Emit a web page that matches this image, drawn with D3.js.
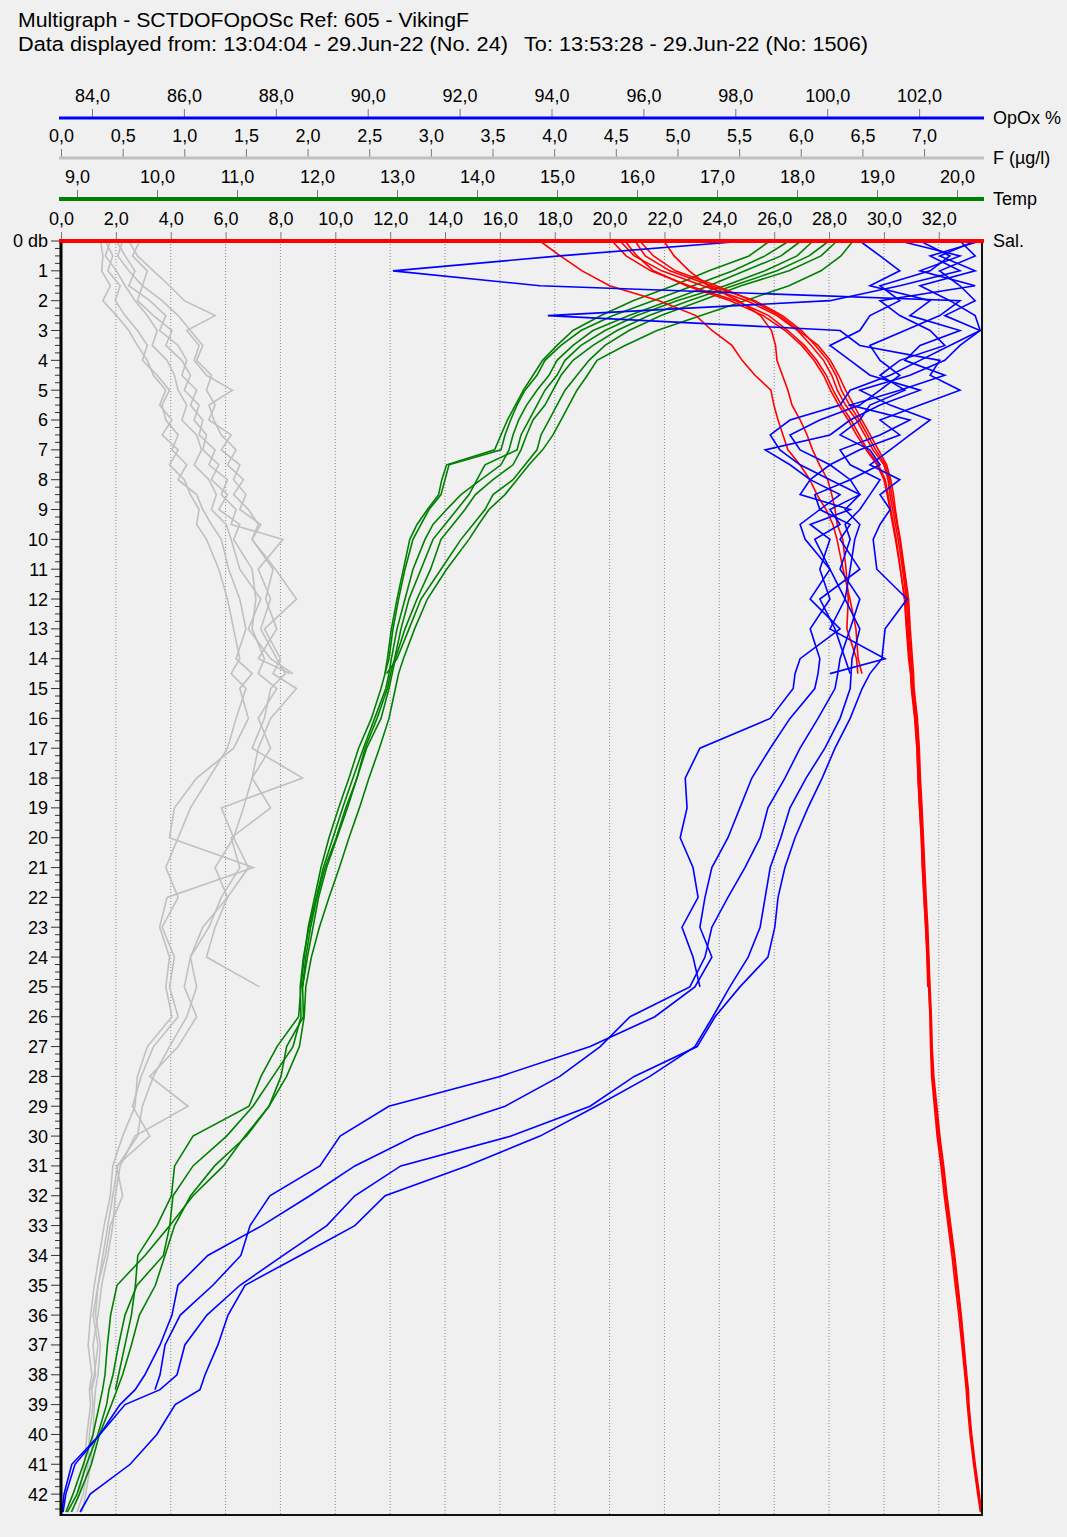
<!DOCTYPE html>
<html>
<head>
<meta charset="utf-8">
<script src="https://cdn.jsdelivr.net/npm/d3@7"></script>
<style>
  html, body { margin: 0; padding: 0; background: #f0f0f0; }
  svg { display: block; font-family: "Liberation Sans", Arial, sans-serif; }
</style>
</head>
<body>
<svg id="chart" width="1067" height="1537"></svg>
<script>
// ---------------- DATA ----------------
const titleLine1 = "Multigraph - SCTDOFOpOSc Ref: 605 - VikingF";
const titleLine2a = "Data displayed from: 13:04:04 - 29.Jun-22 (No. 24)";
const titleLine2b = "To: 13:53:28 - 29.Jun-22 (No: 1506)";

// depth (db) at which every profile value is sampled
const depthGrid = [0,0.5,1,1.5,2,2.5,3,3.5,4,4.5,5,5.5,6,6.5,7,7.5,8,8.5,9,9.5,10,11,12,13,14,14.5,
  15,16,17,18,19,20,21,22,23,24,25,26,27,28,29,30,31,32,33,34,35,36,37,38,38.5,39,40,41,42,42.6];

// Temperature (deg C) per cast
const tempCast1 = [18.5,18.3,17.9,17.3,16.8,16.3,15.9,15.6,15.4,15.25,15.1,15.0,14.9,14.8,14.75,14.6,14.45,14.2,14.1,13.95,13.8,13.55,13.3,13.15,13.0,12.87];
const tempCast2 = [17.9,17.6,17.2,16.7,16.2,15.7,15.3,15.05,14.85,14.75,14.6,14.5,14.42,14.35,14.3,13.65,13.6,13.55,13.4,13.3,13.2,13.1,13.02,12.95,12.9,12.85];
const tempCast3 = [18.2,18.0,17.6,17.1,16.5,16.0,15.6,15.3,15.1,15.0,14.85,14.75,14.65,14.55,14.5,14.1,14.0,13.9,13.75,13.6,13.45,13.3,13.15,13.05,12.97,12.92,12.88,12.75,12.6,12.5,12.38,12.25,12.12,12.02,11.95,11.88,11.82];
const tempCast4 = [17.66,17.4,16.9,16.45,15.95,15.55,15.2,15.0,14.82,14.7,14.58,14.48,14.38,14.3,14.22,13.62,13.56,13.52,13.38,13.25,13.16,13.08,13.0,12.93,12.88,12.85,12.8,12.68,12.52,12.4,12.27,12.15,12.05,11.97,11.89,11.84,11.8,11.77,11.5,11.3,11.15,10.45,10.22,10.18,10.0,9.76,9.73,9.68,9.6,9.52,9.48];
const tempCast5 = [18.7,18.55,18.3,17.9,17.35,16.8,16.25,15.85,15.5,15.38,15.25,15.15,15.05,14.95,14.82,14.65,14.5,14.35,14.15,14.02,13.9,13.62,13.38,13.22,13.08,13.02,12.98,12.9,12.78,12.65,12.53,12.4,12.28,12.15,12.03,11.93,11.86,11.84,11.78,11.62,11.4,11.12,10.72,10.42,10.22,10.1,9.98,9.78,9.68,9.57,9.5,9.43,9.28,9.18,9.03,8.93];
const tempCast6 = [18.05,17.8,17.35,16.9,16.4,15.9,15.45,15.2,15.0,14.9,14.75,14.62,14.52,14.45,14.4,14.3,14.05,13.8,13.62,13.45,13.35,13.2,13.1,13.0,12.93,12.9,12.86,12.72,12.58,12.45,12.32,12.2,12.08,11.99,11.9,11.83,11.79,11.8,11.7,11.45,11.2,10.87,10.45,10.2,10.16,9.85,9.5,9.42,9.38,9.35,9.32,9.28,9.2,9.08,8.95,8.86];
const tempCast7 = [18.4,18.15,17.75,17.2,16.65,16.15,15.75,15.45,15.2,15.05,14.95,14.85,14.7,14.62,14.55,14.45,14.2,13.98,13.85,13.7,13.55,13.42,13.25,13.1,12.98,12.94,12.9,12.8,12.62,12.5,12.36,12.24,12.1,12.0,11.92,11.86,11.82,11.83,11.62,11.55,11.4,11.1,10.83,10.45,10.16,10.08,9.75,9.6,9.52,9.45,9.4,9.37,9.26,9.12,9.0,8.88];

// Salinity per cast
const salCast1 = [17.46,18.2,19.0,20.0,21.8,23.15,23.73,24.46,24.83,25.3,25.88,25.99,26.14,26.32,26.5,26.94,27.3,27.56,27.89,28.14,28.29,28.51,28.76,28.98,29.06,29.2];
const salCast2 = [21.98,22.35,22.9,23.6,24.7,25.5,25.9,26.05,26.1,26.3,26.5,26.65,26.95,27.2,27.4,27.65,27.95,28.1,28.22,28.3,28.5,28.62,28.7,28.65,29.0,29.05];
const salCast3 = [20.09,20.6,21.5,22.9,24.6,25.8,26.5,27.1,27.55,27.9,28.15,28.45,28.8,29.1,29.4,29.8,30.05,30.15,30.25,30.35,30.45,30.6,30.75,30.82,30.9,30.97,31.0,31.12,31.2,31.25,31.3,31.36,31.4,31.46,31.52,31.57,31.6];
const salCast4 = [20.38,20.9,21.9,23.4,25.0,26.1,26.85,27.35,27.8,28.1,28.3,28.6,29.0,29.3,29.6,30.0,30.15,30.22,30.32,30.42,30.52,30.68,30.82,30.88,30.97,31.02,31.05,31.17,31.24,31.28,31.34,31.4,31.44,31.49,31.55,31.6,31.64,31.69,31.72,31.77,31.88,31.98,32.12,32.25,32.38,32.53,32.65,32.78,32.88,32.98,33.05];
const salCast5 = [20.93,21.3,22.2,23.7,25.3,26.3,27.0,27.5,27.95,28.25,28.45,28.75,29.1,29.4,29.7,30.05,30.2,30.28,30.38,30.48,30.58,30.72,30.86,30.92,31.0,31.04,31.08,31.2,31.27,31.3,31.36,31.42,31.46,31.51,31.57,31.62,31.66,31.71,31.74,31.79,31.9,32.0,32.14,32.27,32.4,32.55,32.68,32.8,32.9,33.0,33.05,33.08,33.18,33.3,33.45,33.54];
const salCast6 = [20.56,21.0,21.6,22.8,24.4,25.6,26.4,27.0,27.45,27.8,28.05,28.35,28.7,29.0,29.35,29.75,30.0,30.12,30.22,30.32,30.42,30.6,30.76,30.84,30.93,30.98,31.02,31.14,31.21,31.24,31.3,31.37,31.41,31.46,31.53,31.58,31.63,31.68,31.7,31.74,31.84,31.94,32.08,32.2,32.34,32.48,32.6,32.73,32.84,32.95,33.0,33.04,33.14,33.27,33.42,33.52];
const salCast7 = [21.1,21.6,22.4,23.9,25.2,26.2,26.9,27.6,28.05,28.35,28.6,28.9,29.2,29.5,29.8,30.1,30.25,30.35,30.42,30.5,30.6,30.75,30.9,30.96,31.04,31.08,31.1,31.22,31.29,31.33,31.39,31.44,31.49,31.54,31.6,31.64,31.68,31.73,31.76,31.82,31.93,32.04,32.18,32.3,32.44,32.58,32.7,32.82,32.92,33.02,33.08,33.1,33.2,33.33,33.48,33.55];

// Fluorescence (ug/l) per cast
const fluoCast1 = [0.40,0.36,0.45,0.52,0.60,0.70,0.78,0.74,0.86,0.92,0.95,1.02,0.98,1.10,1.14,1.08,1.20,1.26,1.22,1.34,1.38,1.45,1.62,1.52,1.70,1.88];
const fluoCast2 = [0.55,0.62,0.75,0.88,1.00,1.25,1.02,1.12,1.08,1.18,1.39,1.20,1.24,1.30,1.42,1.35,1.48,1.40,1.52,1.60,1.55,1.72,1.66,1.75,1.60,1.86];
const fluoCast3 = [0.64,0.58,0.70,0.66,0.82,0.95,1.05,1.15,1.10,1.22,1.18,1.25,1.20,1.38,1.30,1.45,1.40,1.50,1.45,1.62,1.55,1.74,1.91,1.65,1.78,1.72,1.91,1.70,1.60,1.55,1.48,1.40,1.52,1.35,1.25,1.18,1.61];
const fluoCast4 = [0.32,0.34,0.33,0.40,0.34,0.45,0.55,0.62,0.70,0.75,0.85,0.80,0.90,0.82,0.95,0.88,1.00,1.05,1.12,1.10,1.18,1.28,1.35,1.40,1.45,1.38,1.50,1.42,1.35,1.20,1.05,0.95,0.85,0.95,0.82,0.92,0.88,0.95,0.75,0.65,0.58,0.72,0.45,0.50,0.40,0.36,0.30,0.26,0.30,0.27,0.24];
const fluoCast5 = [0.45,0.52,0.60,0.55,0.72,0.85,0.80,0.95,1.02,0.98,1.10,1.05,1.15,1.12,1.25,1.20,1.35,1.30,1.42,1.38,1.80,1.60,1.70,1.62,1.75,1.82,1.70,1.65,1.55,1.96,1.30,1.40,1.25,1.35,1.15,1.05,1.00,1.10,0.95,0.72,1.03,0.60,0.48,0.44,0.42,0.38,0.33,0.30,0.26,0.28,0.25,0.26,0.23,0.22,0.18,0.13];
const fluoCast6 = [0.36,0.42,0.38,0.48,0.44,0.52,0.62,0.70,0.66,0.78,0.88,0.82,0.85,0.95,0.90,1.02,0.95,1.10,1.15,1.22,1.30,1.36,1.45,1.50,1.42,1.55,1.45,1.52,1.40,1.10,0.92,0.88,1.56,0.86,0.80,0.88,0.85,0.90,0.70,0.62,0.60,0.50,0.42,0.40,0.35,0.31,0.27,0.24,0.22,0.25,0.23,0.24,0.21,0.19,0.15,0.09];
const fluoCast7 = [0.50,0.46,0.55,0.66,0.62,0.75,0.90,0.85,0.98,1.05,1.00,1.12,1.08,1.18,1.15,1.28,1.22,1.35,1.28,1.45,1.40,1.55,1.58,1.55,1.65,1.60,1.75,1.60,1.70,1.55,1.70,1.38,1.45,1.30,1.20,1.05,1.10,1.02,0.88,0.75,0.66,0.62,0.46,0.42,0.38,0.34,0.30,0.28,0.32,0.30,0.28,0.27,0.26,0.24,0.20,0.17];

// Optode oxygen (% sat) per cast
const opoxCast1 = [98.23,94.18,90.55,93.75,102.89,102.45,101.69,100.93,101.15,101.58,101.15,100.71,99.84,99.19,99.41,100.06,100.5,99.73,99.84,99.41,99.52,100.06,100.39,100.06,101.26,100.06];
const opoxCast2 = [103.33,102.24,102.89,101.58,100.06,93.92,100.28,100.71,102.45,102.24,102.89,102.02,101.15,101.58,100.71,100.06,99.63,100.28,99.84,100.5,100.28,100.71,99.84,100.17,100.39,100.5];
const opoxCast3 = [102.89,103.22,102.45,102.89,103.22,102.56,103.33,102.67,102.02,101.37,100.5,100.28,99.19,98.76,98.97,99.41,100.06,100.71,100.06,100.28,99.73,100.06,99.63,100.28,99.41,99.3,99.26,98.76,97.23,96.91,96.95,96.8,97.08,97.19,96.84,97.08,97.23];
const opoxCast4 = [102.02,102.67,102.24,101.15,101.58,100.93,100.71,100.06,100.5,100.93,102.02,101.15,100.5,100.06,98.65,99.19,99.63,99.41,100.5,99.63,100.06,99.84,100.06,99.63,99.84,99.8,99.73,99.19,98.76,98.36,98.1,97.84,97.49,97.34,97.23,97.49,97.12,96.25,94.84,92.88,90.46,89.4,88.96,87.87,87.44,87.24,86.63,85.92,85.59,85.48,85.37];
const opoxCast5 = [100.71,101.15,101.58,100.93,102.24,101.8,102.89,102.02,101.69,102.56,101.58,100.5,101.8,101.15,100.28,100.5,101.15,100.93,100.71,100.39,100.5,100.28,100.71,100.5,100.28,100.23,100.17,99.8,99.41,99.08,98.71,98.54,98.21,97.84,97.49,97.34,97.01,95.71,95.06,94.18,92.99,91.03,89.72,88.74,87.7,86.52,85.87,85.74,85.48,85.15,84.94,84.61,84.17,83.56,83.39,83.35];
const opoxCast6 = [103.22,102.45,103.22,102.02,102.67,103.22,103.33,102.89,102.56,101.8,100.71,101.37,102.24,101.8,101.37,100.93,101.58,101.15,101.37,101.15,101.0,101.08,101.74,101.26,101.19,100.93,100.76,100.5,100.17,99.89,99.58,99.3,99.08,98.93,98.86,98.71,98.1,97.56,97.17,95.8,94.84,93.12,90.72,89.72,89.11,88.16,87.22,86.5,86.02,85.85,85.48,84.72,84.17,83.63,83.43,83.37];
const opoxCast7 = [101.58,102.89,102.02,103.22,101.15,101.58,102.24,102.56,101.58,101.15,101.69,100.93,100.71,100.28,100.93,101.15,100.5,100.71,100.39,100.71,100.6,100.5,100.39,100.71,100.54,100.52,100.5,100.28,99.95,99.54,99.19,98.99,98.76,98.65,98.54,98.28,97.88,97.51,97.12,96.14,94.97,93.75,92.16,90.38,89.72,88.53,87.33,86.96,86.74,86.46,86.35,85.81,85.41,84.83,83.96,83.74];

// Axis tick labels
const opoxTicks = [84,86,88,90,92,94,96,98,100,102];
const fluoTicks = [0,0.5,1,1.5,2,2.5,3,3.5,4,4.5,5,5.5,6,6.5,7];
const tempTicks = [9,10,11,12,13,14,15,16,17,18,19,20];
const salTicks = [0,2,4,6,8,10,12,14,16,18,20,22,24,26,28,30,32];
const depthTicks = [0,1,2,3,4,5,6,7,8,9,10,11,12,13,14,15,16,17,18,19,20,21,22,23,24,25,26,27,28,29,30,31,32,33,34,35,36,37,38,39,40,41,42];
const axisNames = ["OpOx %", "F (\u00b5g/l)", "Temp", "Sal."];

// ---------------- LAYOUT ----------------
const plot = { left: 61, right: 982, top: 241, bottom: 1515 };
const svg = d3.select("#chart");
svg.append("rect").attr("width", 1067).attr("height", 1537).attr("fill", "#f0f0f0");

const y = d3.scaleLinear().domain([0, 42.7]).range([plot.top, plot.bottom]);
const xOpox = d3.scaleLinear().domain([83.325, 103.369]).range([plot.left, plot.right]);
const xFluo = d3.scaleLinear().domain([0, 7.47]).range([plot.left, plot.right]);
const xTemp = d3.scaleLinear().domain([8.8, 20.3125]).range([plot.left, plot.right]);
const xSal = d3.scaleLinear().domain([0, 33.576]).range([plot.left, plot.right]);

const fmt = d => d.toFixed(1).replace(".", ",");
const FONT = 18;

// Title
function titleText(x, yy, txt, len) {
  svg.append("text").attr("x", x).attr("y", yy).attr("font-size", 19.5).attr("fill", "#000")
    .attr("textLength", len).attr("lengthAdjust", "spacingAndGlyphs").text(txt);
}
titleText(18, 27, titleLine1, 451);
titleText(18, 51, titleLine2a, 490);
titleText(524, 51, titleLine2b, 344);

// Grid (dotted, at salinity majors)
svg.append("g").selectAll("line").data(salTicks.filter(v => v > 0)).join("line")
  .attr("x1", d => xSal(d)).attr("x2", d => xSal(d))
  .attr("y1", plot.top).attr("y2", plot.bottom)
  .attr("stroke", "#8a8a8a").attr("stroke-width", 1).attr("stroke-dasharray", "1,2");

// ---------------- PROFILES ----------------
svg.append("clipPath").attr("id", "plotclip").append("rect")
  .attr("x", plot.left).attr("y", plot.top - 2).attr("width", plot.right - plot.left).attr("height", plot.bottom - plot.top + 2);
const gData = svg.append("g").attr("clip-path", "url(#plotclip)");

function drawCasts(casts, scale, color) {
  const line = d3.line().x(d => scale(d[1])).y(d => y(d[0]));
  casts.forEach(vals => {
    const pts = vals.map((v, i) => [depthGrid[i], v]);
    gData.append("path").attr("d", line(pts)).attr("fill", "none")
      .attr("stroke", color).attr("stroke-width", 1.6).attr("stroke-linejoin", "miter");
  });
}
drawCasts([fluoCast1, fluoCast2, fluoCast3, fluoCast4, fluoCast5, fluoCast6, fluoCast7], xFluo, "#c0c0c0");
drawCasts([tempCast1, tempCast2, tempCast3, tempCast4, tempCast5, tempCast6, tempCast7], xTemp, "#008000");
drawCasts([salCast1, salCast2, salCast3, salCast4, salCast5, salCast6, salCast7], xSal, "#ff0000");
drawCasts([opoxCast1, opoxCast2, opoxCast3, opoxCast4, opoxCast5, opoxCast6, opoxCast7], xOpox, "#0000ff");

// ---------------- FRAME ----------------
svg.append("line").attr("x1", plot.right).attr("x2", plot.right).attr("y1", plot.top).attr("y2", plot.bottom + 1)
  .attr("stroke", "#111").attr("stroke-width", 2);
svg.append("line").attr("x1", plot.left).attr("x2", plot.right + 1).attr("y1", plot.bottom).attr("y2", plot.bottom)
  .attr("stroke", "#111").attr("stroke-width", 2);

// Left depth axis
const gLeft = svg.append("g");
const minorDepth = d3.range(0, 42.71, 0.25).filter(v => Math.abs(v - Math.round(v)) > 1e-6);
gLeft.selectAll("line.minor").data(minorDepth).join("line")
  .attr("x1", 55).attr("x2", 61).attr("y1", d => y(d)).attr("y2", d => y(d))
  .attr("stroke", "#333").attr("stroke-width", 1);
gLeft.selectAll("line.major").data(depthTicks).join("line")
  .attr("x1", 51).attr("x2", 61).attr("y1", d => y(d)).attr("y2", d => y(d))
  .attr("stroke", "#333").attr("stroke-width", 1);
gLeft.selectAll("text").data(depthTicks).join("text")
  .attr("x", 48).attr("y", d => y(d)).attr("dy", "0.36em").attr("text-anchor", "end")
  .attr("font-size", FONT).attr("fill", "#000")
  .text(d => d === 0 ? "0 db" : String(d));
svg.append("line").attr("x1", plot.left).attr("x2", plot.left).attr("y1", plot.top).attr("y2", plot.bottom + 1)
  .attr("stroke", "#000").attr("stroke-width", 3);

// Top axes
function topAxis(scale, yLine, majors, minorStep, color, width, name) {
  const [d0, d1] = scale.domain();
  const start = Math.ceil(d0 / minorStep) * minorStep;
  const minors = d3.range(start, d1 + 1e-9, minorStep);
  const g = svg.append("g").attr("transform", `translate(0,${yLine})`);
  g.call(d3.axisTop(scale).tickValues(minors).tickSize(5).tickFormat(""));
  g.call(d3.axisTop(scale).tickValues(majors).tickSize(9).tickPadding(7).tickFormat(fmt));
  g.selectAll(".domain").remove();
  g.selectAll(".tick line").attr("stroke", "#7a7a7a");
  g.selectAll(".tick text").attr("font-size", FONT).attr("fill", "#000")
    .attr("font-family", '"Liberation Sans", Arial, sans-serif');
  svg.append("line").attr("x1", 59).attr("x2", 984).attr("y1", yLine).attr("y2", yLine)
    .attr("stroke", color).attr("stroke-width", width);
  svg.append("text").attr("x", 993).attr("y", yLine).attr("dy", "0.36em")
    .attr("font-size", FONT).attr("fill", "#000").text(name);
}
topAxis(xOpox, 118, opoxTicks, 0.5, "#0000ff", 3, axisNames[0]);
topAxis(xFluo, 158, fluoTicks, 0.125, "#c0c0c0", 3, axisNames[1]);
topAxis(xTemp, 199, tempTicks, 0.25, "#008000", 4, axisNames[2]);
topAxis(xSal, 241, salTicks, 0.5, "#ff0000", 4, axisNames[3]);
</script>
</body>
</html>
